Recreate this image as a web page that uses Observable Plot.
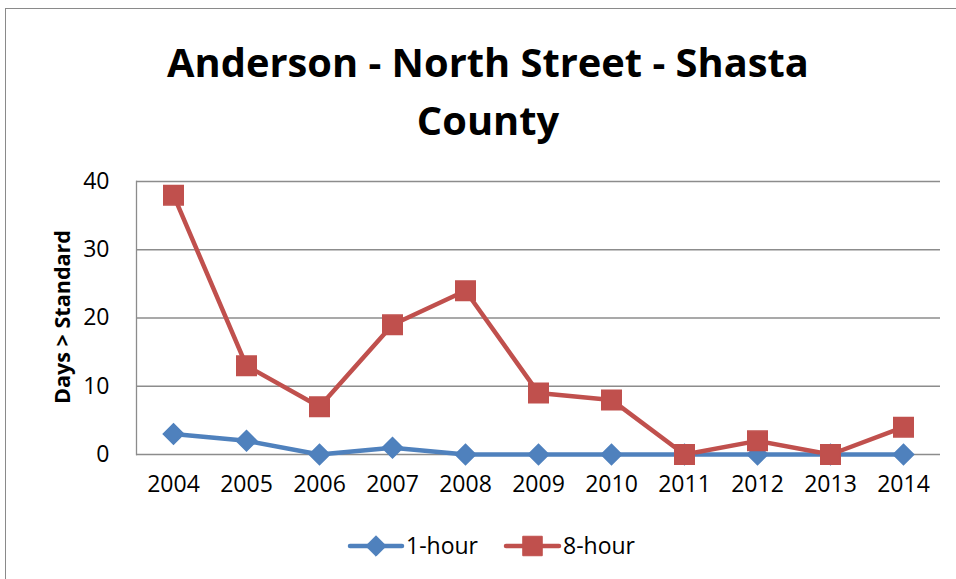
<!DOCTYPE html>
<html>
<head>
<meta charset="utf-8">
<script src="https://cdn.jsdelivr.net/npm/d3@7"></script>
<script src="https://cdn.jsdelivr.net/npm/@observablehq/plot@0.6"></script>
<style>
  html, body { margin: 0; padding: 0; background: #fff; }
  #wrap { position: relative; width: 956px; height: 579px; overflow: hidden; font-family: "Open Sans", sans-serif; }
  #border { position: absolute; left: 5px; top: 8px; width: 1000px; height: 1000px; border-left: 1.5px solid #8a8a8a; border-top: 1.5px solid #8a8a8a; box-sizing: border-box; }
  #chart { position: absolute; left: 0; top: 0; }
  .title { position: absolute; left: 0; width: 976px; text-align: center; font-weight: 700; color: #000; white-space: nowrap; }
  #ylab { position: absolute; left: 62px; top: 317px; transform: translate(-50%, -50%) rotate(-90deg); font-weight: 700; white-space: nowrap; color: #000; }
  #legend { position: absolute; top: 528px; left: 0; width: 956px; height: 36px; }
</style>
</head>
<body>
<div id="wrap">
  <div id="border"></div>
  <div id="chart"></div>
  <div class="title" id="t1"></div>
  <div class="title" id="t2"></div>
  <div id="ylab"></div>
  <svg id="legend" width="956" height="36"></svg>
</div>
<script>
const titleLines = ["Anderson - North Street - Shasta", "County"];
const yLabel = "Days > Standard";
const years = ["2004","2005","2006","2007","2008","2009","2010","2011","2012","2013","2014"];
const oneHour = [3, 2, 0, 1, 0, 0, 0, 0, 0, 0, 0];
const eightHour = [38, 13, 7, 19, 24, 9, 8, 0, 2, 0, 4];
const yTicks = [0, 10, 20, 30, 40];
const seriesNames = ["1-hour", "8-hour"];

const blue = "#4F81BD", red = "#C0504D", grid = "#8c8c8c";
const font = '"Open Sans", sans-serif';
const tickFont = 23;
const diamondR = 9.2, squareR = 11;

const data1 = years.map((y, i) => ({year: y, value: oneHour[i], series: seriesNames[0]}));
const data8 = years.map((y, i) => ({year: y, value: eightHour[i], series: seriesNames[1]}));

const chart = Plot.plot({
  width: 956,
  height: 579,
  marginLeft: 136,
  marginRight: 16,
  marginTop: 181,
  marginBottom: 125,
  style: {fontFamily: font, fontSize: tickFont + "px", color: "#000", background: "transparent"},
  x: {type: "point", domain: years, padding: 0.5, label: null},
  y: {domain: [0, 40], ticks: yTicks, label: null},
  marks: [
    Plot.ruleY(yTicks, {stroke: grid, strokeWidth: 1.3}),
    Plot.frame({anchor: "left", stroke: grid, strokeWidth: 1.3}),
    Plot.axisY({ticks: yTicks, tickSize: 0, tickPadding: 27, label: null, fontSize: tickFont}),
    Plot.axisX({tickSize: 0, tickPadding: 21, label: null, fontSize: tickFont}),
    Plot.line(data1, {x: "year", y: "value", stroke: blue, strokeWidth: 4.5, strokeLinejoin: "round", strokeLinecap: "round"}),
    Plot.line(data8, {x: "year", y: "value", stroke: red, strokeWidth: 4.5, strokeLinejoin: "round", strokeLinecap: "round"}),
    Plot.dot(data1, {x: "year", y: "value", symbol: d3.symbolDiamond2, r: diamondR, fill: blue, stroke: blue}),
    Plot.dot(data8, {x: "year", y: "value", symbol: "square", r: squareR, fill: red, stroke: red})
  ]
});
document.getElementById("chart").appendChild(chart);

// Title
const t1 = document.getElementById("t1"), t2 = document.getElementById("t2");
t1.textContent = titleLines[0];
t2.textContent = titleLines[1];
const cv = document.createElement("canvas").getContext("2d");
cv.font = `700 100px ${font}`;
const w100 = cv.measureText(titleLines[0]).width;
const tSize = 100 * 642 / w100;
for (const [el, top] of [[t1, 62], [t2, 120]]) {
  el.style.fontSize = tSize + "px";
  el.style.lineHeight = "1";
  el.style.top = (top - tSize / 2) + "px";
  el.style.width = "976px";
}

// Y label
const yl = document.getElementById("ylab");
yl.textContent = yLabel;
cv.font = `700 100px ${font}`;
const ySize = 100 * 174 / cv.measureText(yLabel).width;
yl.style.fontSize = ySize + "px";
yl.style.lineHeight = "1";

// Legend
const leg = d3.select("#legend");
const items = [
  {name: seriesNames[0], color: blue, symbol: d3.symbolDiamond2, x0: 350, x1: 402, r: diamondR},
  {name: seriesNames[1], color: red, symbol: d3.symbolSquare, x0: 506, x1: 559, r: squareR}
];
for (const it of items) {
  const g = leg.append("g");
  g.append("line").attr("x1", it.x0).attr("x2", it.x1).attr("y1", 18).attr("y2", 18)
    .attr("stroke", it.color).attr("stroke-width", 4.5).attr("stroke-linecap", "round");
  g.append("path").attr("d", d3.symbol(it.symbol, Math.PI * it.r * it.r)())
    .attr("transform", `translate(${(it.x0 + it.x1) / 2},18)`).attr("fill", it.color).attr("stroke", it.color);
  g.append("text").attr("x", it.x1 + 4).attr("y", 18).attr("dy", "0.35em")
    .attr("font-family", font).attr("font-size", tickFont).attr("fill", "#000").text(it.name);
}
</script>
</body>
</html>
